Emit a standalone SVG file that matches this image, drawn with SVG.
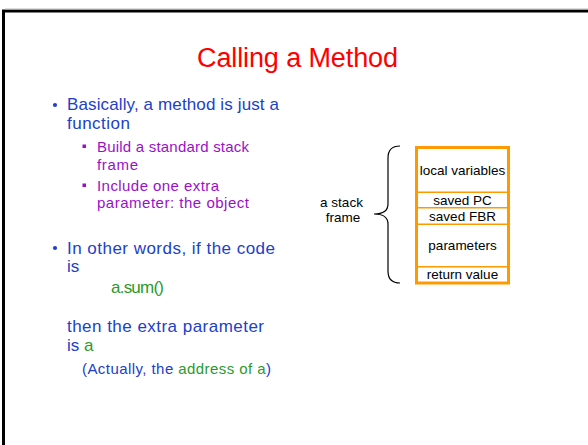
<svg xmlns="http://www.w3.org/2000/svg" width="588" height="445" viewBox="0 0 588 445">
  <style>
    text { font-family: "Liberation Sans", Arial, sans-serif; }
    .title { font-size: 27px; fill: #FF0000; }
    .b1 { font-size: 17px; fill: #2040CC; }
    .b2 { font-size: 15px; fill: #9A10C8; }
    .g { fill: #2A9A2A; }
    .box { fill: #FFFFFF; stroke: #FF9900; stroke-width: 3; }
    .div { stroke: #FF9900; stroke-width: 1.6; }
    .lbl { font-size: 13.5px; fill: #000000; text-anchor: middle; }
    .brace { fill: none; stroke: #000000; stroke-width: 1.2; }
  </style>
  <rect width="588" height="445" fill="#FFFFFF"/>
  <path d="M3.5 445 V11 H588" fill="none" stroke="#000000" stroke-width="3"/>
  <line x1="5" y1="9" x2="588" y2="9" stroke="#BBBBBB" stroke-width="1"/>

  <g id="title">
    <text class="title" x="297.5" y="67" text-anchor="middle" textLength="201">Calling a Method</text>
  </g>

  <g id="bullets">
    <circle cx="55" cy="105" r="2.1" fill="#2040CC"/>
    <text class="b1" x="67" y="110" textLength="212">Basically, a method is just a</text>
    <text class="b1" x="67" y="129" textLength="63">function</text>
    <rect x="82.5" y="144.5" width="3.5" height="3.5" fill="#9A10C8"/>
    <text class="b2" x="97" y="152" textLength="152">Build a standard stack</text>
    <text class="b2" x="97" y="170" textLength="41">frame</text>
    <rect x="82.5" y="183.5" width="3.5" height="3.5" fill="#9A10C8"/>
    <text class="b2" x="97" y="191" textLength="122">Include one extra</text>
    <text class="b2" x="97" y="208" textLength="152">parameter: the object</text>
    <circle cx="55" cy="248" r="2.1" fill="#2040CC"/>
    <text class="b1" x="67" y="254" textLength="208">In other words, if the code</text>
    <text class="b1" x="67" y="272">is</text>
    <text class="b1 g" x="111" y="293" textLength="53">a.sum()</text>
    <text class="b1" x="67" y="332" textLength="197">then the extra parameter</text>
    <text class="b1" x="67" y="351">is <tspan class="g">a</tspan></text>
    <text class="b2" x="82" y="374" fill="#2040CC" style="fill:#2040CC" textLength="189">(Actually, the <tspan class="g">address of a</tspan>)</text>
  </g>

  <g id="stack-frame">
    <rect class="box" x="416.5" y="147.5" width="92" height="135.5"/>
    <line class="div" x1="416.5" y1="192.3" x2="508.5" y2="192.3"/>
    <line class="div" x1="416.5" y1="207.7" x2="508.5" y2="207.7"/>
    <line class="div" x1="416.5" y1="224.3" x2="508.5" y2="224.3"/>
    <line class="div" x1="416.5" y1="266.7" x2="508.5" y2="266.7"/>
    <text class="lbl" x="462.5" y="175">local variables</text>
    <text class="lbl" x="462.5" y="205">saved PC</text>
    <text class="lbl" x="462.5" y="221">saved FBR</text>
    <text class="lbl" x="462.5" y="250">parameters</text>
    <text class="lbl" x="462.5" y="279">return value</text>
  </g>

  <g id="frame-label">
    <text class="lbl" x="341.5" y="207">a stack</text>
    <text class="lbl" x="343" y="222">frame</text>
  </g>

  <g id="connectors">
    <path class="brace" d="M400 146 Q388 146 388 158 V204 Q388 214 374 214 Q388 214 388 224 V271 Q388 283 400 283"/>
  </g>
</svg>
